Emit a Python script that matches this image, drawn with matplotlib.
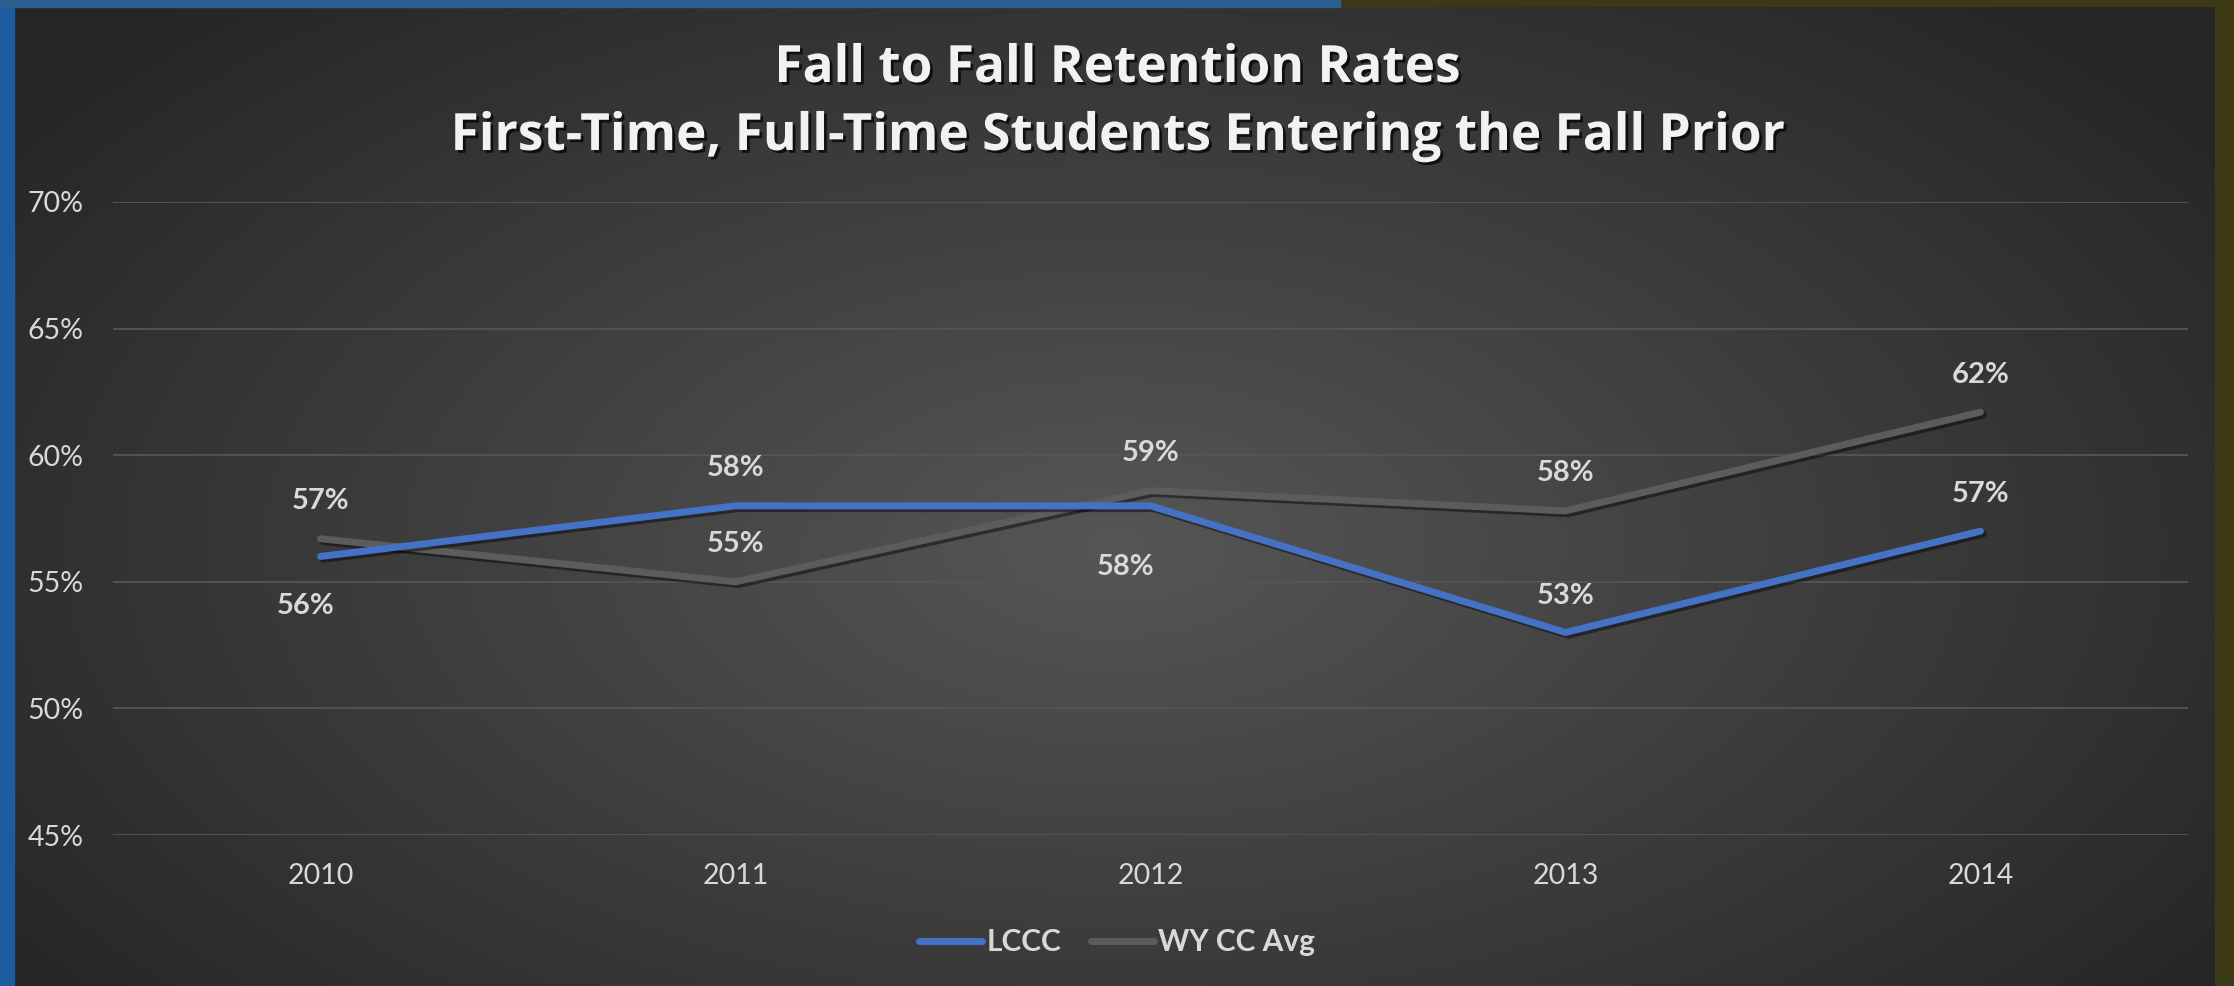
import numpy as np
import matplotlib
matplotlib.use("Agg")
import matplotlib.pyplot as plt
import matplotlib.patheffects as pe
from matplotlib.patches import Rectangle
from matplotlib.ticker import PercentFormatter

years = ["2010", "2011", "2012", "2013", "2014"]
lccc = [0.56, 0.58, 0.58, 0.53, 0.57]
wy_avg = [0.567, 0.55, 0.586, 0.578, 0.617]
lccc_labels = ["56%", "58%", "58%", "53%", "57%"]
wy_labels = ["57%", "55%", "59%", "58%", "62%"]
# label offsets (points) for each point
lccc_offsets = [(-11, -36), (0, 27), (-18, -44), (0, 26), (0, 27)]
wy_offsets = [(0, 27), (0, 27), (0, 27), (0, 27), (0, 27)]

plt.rcParams['font.family'] = ['Lato', 'DejaVu Sans']

W, H = 2234, 986
fig = plt.figure(figsize=(W / 100, H / 100), dpi=100)
fig.patch.set_facecolor("#3b3a14")

# outer frame strips
fig.patches.append(Rectangle((0, 0), 14 / W, 1, transform=fig.transFigure,
                             color="#1d5c9e", zorder=0))
fig.patches.append(Rectangle((0, 1 - 7 / H), 0.6, 7 / H, transform=fig.transFigure,
                             color="#2a5f8f", zorder=0))

# radial gradient background for the chart box
bg = fig.add_axes([14 / W, 0, (2215 - 14) / W, 1 - 7 / H])
bg.set_axis_off()
yy, xx = np.mgrid[0:1:400j, 0:1:900j]
r = np.sqrt(((xx - 0.5) / 0.62) ** 2 + ((yy - 0.45) / 0.75) ** 2)
r = np.clip(r, 0, 1)
light = np.array([0x56, 0x56, 0x56]) / 255
dark = np.array([0x26, 0x26, 0x26]) / 255
img = light[None, None, :] * (1 - r[..., None]) + dark[None, None, :] * r[..., None]
bg.imshow(img, aspect="auto", extent=[0, 1, 0, 1], origin="lower")
bg.set_xlim(0, 1)
bg.set_ylim(0, 1)

ax = fig.add_axes([113 / W, 1 - 835 / H, (2188 - 113) / W, (835 - 202) / H])
ax.patch.set_alpha(0)
x = np.arange(len(years))

shadow = [pe.SimpleLineShadow(offset=(2, -2), shadow_color="black", alpha=0.45), pe.Normal()]
ax.plot(x, lccc, color="#4472C4", lw=5, solid_capstyle="round",
        solid_joinstyle="miter", label="LCCC", path_effects=shadow, zorder=3)
ax.plot(x, wy_avg, color="#5c5c5c", lw=5, solid_capstyle="round",
        solid_joinstyle="miter", label="WY CC Avg", path_effects=shadow, zorder=2)

for i in range(len(years)):
    ax.annotate(lccc_labels[i], (x[i], lccc[i]), xytext=lccc_offsets[i],
                textcoords="offset points", ha="center", va="center",
                fontsize=21, fontweight="bold", color="#d9d9d9")
    ax.annotate(wy_labels[i], (x[i], wy_avg[i]), xytext=wy_offsets[i],
                textcoords="offset points", ha="center", va="center",
                fontsize=21, fontweight="bold", color="#d9d9d9")

ax.set_xlim(-0.5, len(years) - 0.5)
ax.set_ylim(0.45, 0.70)
ax.set_yticks(np.arange(0.45, 0.701, 0.05))
ax.yaxis.set_major_formatter(PercentFormatter(1.0, decimals=0))
ax.set_xticks(x)
ax.set_xticklabels(years)
ax.grid(axis="y", color="#555555", lw=1.3)
ax.set_axisbelow(True)
for s in ax.spines.values():
    s.set_visible(False)
ax.tick_params(axis="both", length=0, colors="#d9d9d9", labelsize=20.5)
ax.tick_params(axis="y", pad=21)
ax.tick_params(axis="x", pad=20)

title_fx = [pe.withSimplePatchShadow(offset=(2, -2), shadow_rgbFace="black", alpha=0.7)]
fig.text(0.5, 1 - 69 / H, "Fall to Fall Retention Rates", ha="center", va="center",
         fontsize=37, fontweight="bold", color="#f2f2f2", path_effects=title_fx,
         family=["Open Sans", "DejaVu Sans"])
fig.text(0.5, 1 - 137 / H, "First-Time, Full-Time Students Entering the Fall Prior",
         ha="center", va="center", fontsize=37, fontweight="bold", color="#f2f2f2",
         path_effects=title_fx, family=["Open Sans", "DejaVu Sans"])

leg = fig.legend(loc="center", bbox_to_anchor=(0.5, 1 - 942 / H), ncol=2,
                 frameon=False, fontsize=21.5, handlelength=2.1, columnspacing=1.0,
                 handletextpad=0.15)
for t in leg.get_texts():
    t.set_color("#d9d9d9")
    t.set_fontweight("bold")
for l in leg.get_lines():
    l.set_linewidth(5)
    l.set_path_effects([])

fig.savefig("out.png", dpi=100)
